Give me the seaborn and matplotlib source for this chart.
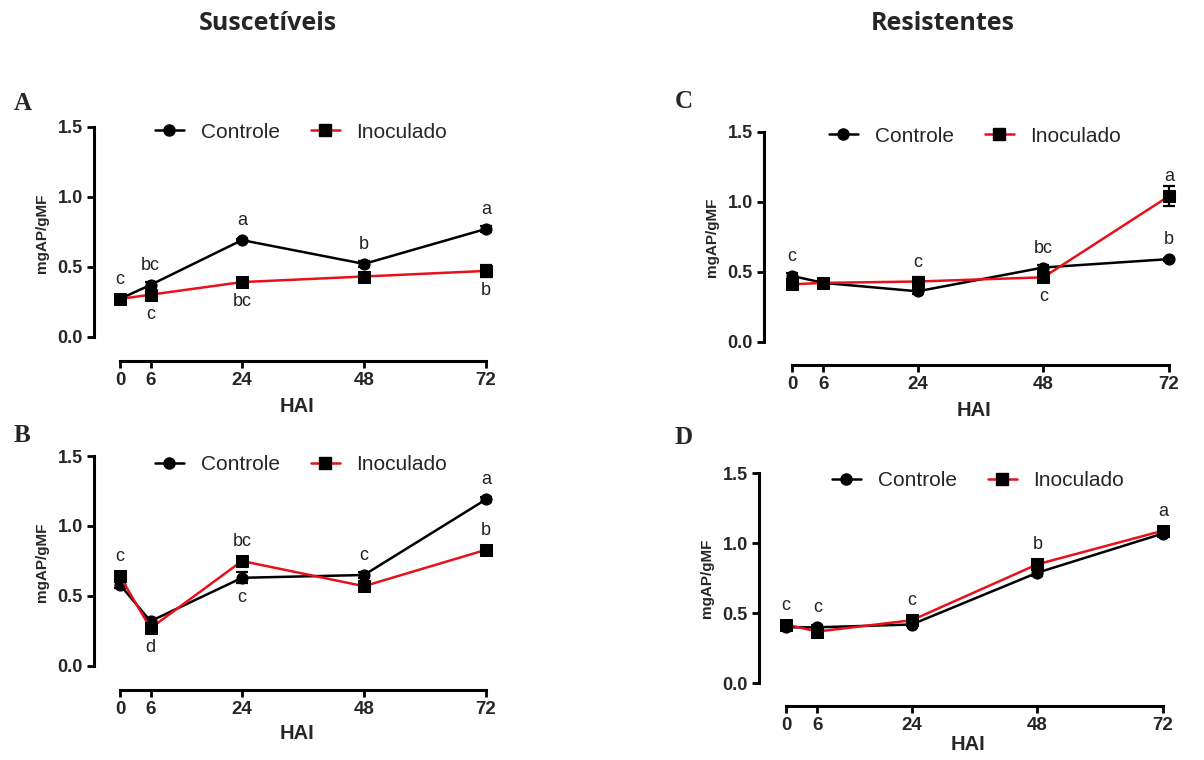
import matplotlib
matplotlib.use("Agg")
import matplotlib.pyplot as plt
import seaborn as sns
import pandas as pd
from matplotlib.lines import Line2D

sns.set_theme(style="ticks")
plt.rcParams["font.family"] = ["Liberation Sans", "DejaVu Sans"]

W, H = 1204, 760

hai = [0, 6, 24, 48, 72]
series_names = ["Controle", "Inoculado"]

# Panel A – suscetíveis
a_controle = [0.27, 0.37, 0.69, 0.52, 0.77]
a_inoculado = [0.27, 0.30, 0.39, 0.43, 0.47]
a_err_controle = [0.01, 0.02, 0.01, 0.02, 0.02]
a_err_inoculado = [0.01, 0.02, 0.02, 0.02, 0.04]
a_letters = [(0, "Controle", "c", "up"), (6, "Controle", "bc", "up"),
             (24, "Controle", "a", "up"), (48, "Controle", "b", "up"),
             (72, "Controle", "a", "up"), (6, "Inoculado", "c", "down"),
             (24, "Inoculado", "bc", "down"), (72, "Inoculado", "b", "down")]

# Panel B – suscetíveis
b_controle = [0.58, 0.32, 0.63, 0.65, 1.19]
b_inoculado = [0.64, 0.27, 0.75, 0.57, 0.83]
b_err_controle = [0.02, 0.02, 0.04, 0.02, 0.02]
b_err_inoculado = [0.02, 0.03, 0.02, 0.02, 0.02]
b_letters = [(0, "Inoculado", "c", "up"), (6, "Inoculado", "d", "down"),
             (24, "Inoculado", "bc", "up"), (24, "Controle", "c", "down"),
             (48, "Controle", "c", "up"), (72, "Controle", "a", "up"),
             (72, "Inoculado", "b", "up")]

# Panel C – resistentes
c_controle = [0.47, 0.42, 0.36, 0.53, 0.59]
c_inoculado = [0.41, 0.42, 0.43, 0.46, 1.04]
c_err_controle = [0.02, 0.01, 0.02, 0.02, 0.01]
c_err_inoculado = [0.02, 0.02, 0.03, 0.03, 0.07]
c_letters = [(0, "Controle", "c", "up"), (24, "Inoculado", "c", "up"),
             (48, "Controle", "bc", "up"), (48, "Inoculado", "c", "down"),
             (72, "Inoculado", "a", "up"), (72, "Controle", "b", "up")]

# Panel D – resistentes
d_controle = [0.40, 0.40, 0.42, 0.79, 1.07]
d_inoculado = [0.42, 0.37, 0.45, 0.85, 1.09]
d_err_controle = [0.01, 0.02, 0.01, 0.02, 0.01]
d_err_inoculado = [0.02, 0.02, 0.02, 0.03, 0.01]
d_letters = [(0, "Inoculado", "c", "up"), (6, "Controle", "c", "up"),
             (24, "Inoculado", "c", "up"), (48, "Inoculado", "b", "up"),
             (72, "Inoculado", "a", "up")]

fig = plt.figure(figsize=(W / 100, H / 100), dpi=100)


def make_axes(spine_x, x0_px, x72_px, spine_y, y0_px, y15_px):
    """Axes with detached spines, placed by pixel geometry."""
    sx = (x72_px - x0_px) / 72.0
    sy = (y0_px - y15_px) / 1.5
    right_px = x72_px + 14
    top_px = y15_px - 22
    ax = fig.add_axes([spine_x / W, 1 - spine_y / H,
                       (right_px - spine_x) / W, (spine_y - top_px) / H])
    ax.set_xlim(-(x0_px - spine_x) / sx, 72 + 14 / sx)
    ax.set_ylim(-(spine_y - y0_px) / sy, 1.5 + 22 / sy)
    ax.set_facecolor("none")
    sns.despine(ax=ax)
    ax.spines["left"].set_bounds(0, 1.5)
    ax.spines["bottom"].set_bounds(0, 72)
    for s in ("left", "bottom"):
        ax.spines[s].set_linewidth(2.2)
        ax.spines[s].set_color("black")
    ax.set_xticks(hai)
    ax.set_yticks([0.0, 0.5, 1.0, 1.5])
    ax.set_yticklabels(["0.0", "0.5", "1.0", "1.5"])
    ax.tick_params(axis="both", direction="out", length=5, width=2,
                   color="black", pad=3)
    ax.tick_params(axis="x", labelsize=13.5)
    ax.tick_params(axis="y", labelsize=13)
    for lab in ax.get_xticklabels() + ax.get_yticklabels():
        lab.set_fontweight("bold")
    return ax


def draw_panel(ax, controle, inoculado, err_c, err_i, letters, legend_center,
               xlabel_pad=5):
    df = pd.DataFrame({
        "HAI": hai * 2,
        "valor": list(controle) + list(inoculado),
        "grupo": ["Controle"] * len(hai) + ["Inoculado"] * len(hai),
    })
    styles = {"Controle": dict(color="black", marker="o", ms=8),
              "Inoculado": dict(color="#e8101a", marker="s", ms=9)}
    errs = {"Controle": err_c, "Inoculado": err_i}
    for name in series_names:
        sub = df[df["grupo"] == name]
        st = styles[name]
        ax.errorbar(sub["HAI"], sub["valor"], yerr=errs[name], fmt="none",
                    ecolor="black", elinewidth=1.6, capsize=4, capthick=1.6,
                    zorder=3, clip_on=False)
        sns.lineplot(data=sub, x="HAI", y="valor", ax=ax, color=st["color"],
                     marker=st["marker"], markersize=st["ms"],
                     markerfacecolor="black", markeredgecolor="black",
                     linewidth=1.8, zorder=4, clip_on=False, legend=False)
    ax.set_xlabel("HAI", fontsize=14.5, fontweight="bold", labelpad=xlabel_pad)
    ax.set_ylabel("mgAP/gMF", fontsize=11, fontweight="bold", labelpad=6)

    vals = {"Controle": controle, "Inoculado": inoculado}
    for h, name, txt, where in letters:
        y = vals[name][hai.index(h)]
        off = 14 if where == "up" else -14
        ax.annotate(txt, (h, y), xytext=(0, off), textcoords="offset points",
                    ha="center", va="center", fontsize=13, color="#222222")

    handles = [Line2D([], [], color="black", marker="o", ms=8, lw=1.8,
                      markerfacecolor="black", markeredgecolor="black"),
               Line2D([], [], color="#e8101a", marker="s", ms=9, lw=1.8,
                      markerfacecolor="black", markeredgecolor="black")]
    ax.legend(handles, series_names, loc="center", ncol=2, frameon=False,
              fontsize=15, handlelength=1.4, handletextpad=0.8,
              columnspacing=1.5,
              bbox_to_anchor=(legend_center[0] / W, 1 - legend_center[1] / H),
              bbox_transform=fig.transFigure)


ax_a = make_axes(94, 120, 486, 361, 336.7, 126.7)
draw_panel(ax_a, a_controle, a_inoculado, a_err_controle, a_err_inoculado,
           a_letters, (301, 132), xlabel_pad=6)

ax_b = make_axes(94, 120, 486, 690, 666, 456)
draw_panel(ax_b, b_controle, b_inoculado, b_err_controle, b_err_inoculado,
           b_letters, (301, 465), xlabel_pad=4)

ax_c = make_axes(764, 792, 1169, 365, 341.7, 131.7)
draw_panel(ax_c, c_controle, c_inoculado, c_err_controle, c_err_inoculado,
           c_letters, (975, 136), xlabel_pad=6)

ax_d = make_axes(759, 786, 1163, 706, 683.3, 473.3)
draw_panel(ax_d, d_controle, d_inoculado, d_err_controle, d_err_inoculado,
           d_letters, (978, 481), xlabel_pad=1)

# Column headers and panel letters
fig.text(268 / W, 1 - 24 / H, "Suscetíveis", ha="center", va="center",
         fontsize=18, fontweight="bold", family=["Open Sans", "DejaVu Sans"])
fig.text(943 / W, 1 - 24 / H, "Resistentes", ha="center", va="center",
         fontsize=18, fontweight="bold", family=["Open Sans", "DejaVu Sans"])
for lbl, (px, py) in {"A": (23, 104), "B": (22, 436),
                      "C": (684, 101), "D": (684, 438)}.items():
    fig.text(px / W, 1 - py / H, lbl, ha="center", va="center", fontsize=18,
             fontweight="bold", family=["Liberation Serif", "DejaVu Serif"])

fig.savefig("out.png", dpi=100, facecolor="white")
